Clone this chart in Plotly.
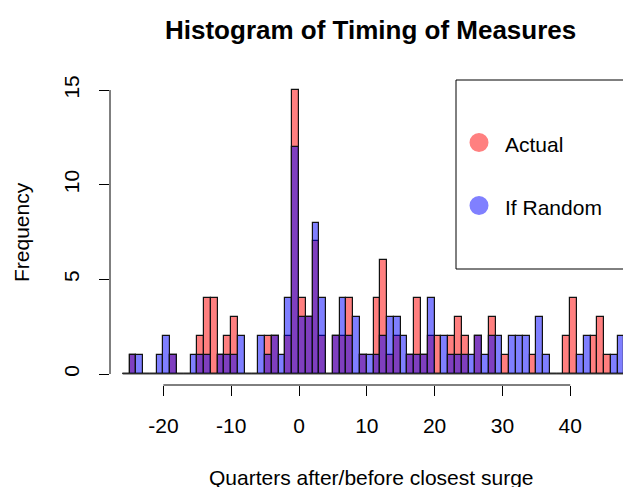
import plotly.graph_objects as go

# Bin left edges (bins of width 1 quarter)
bin_start = list(range(-26, 48))

# Counts per bin: actual timing of measures
actual = [0,
          1, 0, 0, 0, 0, 0, 1, 0, 0, 0,   # -25 .. -16
          2, 4, 4, 1, 2, 3, 0, 0, 0, 0,   # -15 .. -6
          2, 2, 0, 2, 15, 4, 3, 7, 2, 0,  # -5 .. 4
          2, 2, 4, 0, 1, 0, 4, 6, 1, 2,   # 5 .. 14
          0, 1, 4, 1, 2, 2, 0, 2, 3, 2,   # 15 .. 24
          0, 2, 0, 3, 0, 1, 0, 0, 0, 1,   # 25 .. 34
          0, 0, 0, 0, 2, 4, 0, 0, 2, 3,   # 35 .. 44
          1, 0, 0]                        # 45 .. 47

# Counts per bin: if timing were random
if_random = [0,
             1, 1, 0, 0, 1, 2, 1, 0, 0, 1,   # -25 .. -16
             1, 1, 0, 1, 1, 1, 2, 0, 0, 2,   # -15 .. -6
             1, 2, 1, 4, 12, 3, 3, 8, 4, 0,  # -5 .. 4
             2, 4, 2, 3, 1, 1, 1, 2, 3, 3,   # 5 .. 14
             2, 1, 1, 1, 4, 0, 2, 1, 1, 1,   # 15 .. 24
             1, 2, 1, 2, 2, 0, 2, 2, 2, 0,   # 25 .. 34
             3, 1, 0, 0, 0, 0, 1, 2, 0, 0,   # 35 .. 44
             0, 1, 2]                        # 45 .. 47

x_ticks = [-20, -10, 0, 10, 20, 30, 40]
x_tick_labels = ["-20", "-10", "0", "10", "20", "30", "40"]
y_ticks = [0, 5, 10, 15]
y_tick_labels = ["0", "5", "10", "15"]

title_text = "Histogram of Timing of Measures"
x_title = "Quarters after/before closest surge"
y_title = "Frequency"
legend_labels = ["Actual", "If Random"]

RED = "rgba(255,0,0,0.5)"
BLUE = "rgba(0,0,255,0.5)"
FONT = "Liberation Sans, Arial, sans-serif"

centers = [b + 0.5 for b in bin_start]

fig = go.Figure()
fig.add_trace(go.Bar(x=centers, y=actual, width=1, name=legend_labels[0],
                     marker=dict(color=RED, line=dict(color="#111", width=1.2))))
fig.add_trace(go.Bar(x=centers, y=if_random, width=1, name=legend_labels[1],
                     marker=dict(color=BLUE, line=dict(color="#111", width=1.2))))

W, H = 623, 487
L, R, T, B = 110, 0, 79, 102
pw, ph = W - L - R, H - T - B

def px(xpix):
    return (xpix - L) / pw

def py(ypix):
    return (H - B - ypix) / ph

shapes = []
# baseline of zero-height bins
shapes.append(dict(type="line", xref="x", yref="y", x0=min(bin_start), x1=max(bin_start) + 1,
                   y0=0, y1=0, line=dict(color="#444", width=1)))
# R-style axis lines
shapes.append(dict(type="line", xref="x", yref="paper", x0=min(x_ticks), x1=max(x_ticks),
                   y0=0, y1=0, line=dict(color="black", width=1)))
shapes.append(dict(type="line", xref="paper", yref="y", x0=0, x1=0,
                   y0=min(y_ticks), y1=max(y_ticks), line=dict(color="black", width=1)))
# legend box
shapes.append(dict(type="rect", xref="paper", yref="paper", x0=px(456), x1=px(700),
                   y0=py(269), y1=py(80), line=dict(color="black", width=1), fillcolor="rgba(0,0,0,0)"))
# legend symbols
for col, cy in [("#FF8080", 142.5), ("#8080FF", 205.5)]:
    shapes.append(dict(type="circle", xref="paper", yref="paper", xsizemode="pixel", ysizemode="pixel",
                       xanchor=px(479), yanchor=py(cy), x0=-9.5, x1=9.5, y0=-9.5, y1=9.5,
                       fillcolor=col, line=dict(width=0)))

annotations = [
    dict(text="<b>" + title_text + "</b>", xref="paper", yref="paper", x=px(370), y=py(30),
         xanchor="center", yanchor="middle", showarrow=False, font=dict(family=FONT, size=26, color="black")),
    dict(text=x_title, xref="paper", yref="paper", x=px(371), y=py(477),
         xanchor="center", yanchor="middle", showarrow=False, font=dict(family=FONT, size=21, color="black")),
    dict(text=y_title, xref="paper", yref="paper", x=px(21), y=py(232), textangle=-90,
         xanchor="center", yanchor="middle", showarrow=False, font=dict(family=FONT, size=21, color="black")),
    dict(text=legend_labels[0], xref="paper", yref="paper", x=px(503), y=py(144),
         xanchor="left", yanchor="middle", showarrow=False, font=dict(family=FONT, size=21, color="black")),
    dict(text=legend_labels[1], xref="paper", yref="paper", x=px(503), y=py(207),
         xanchor="left", yanchor="middle", showarrow=False, font=dict(family=FONT, size=21, color="black")),
]

fig.update_layout(
    width=W, height=H,
    margin=dict(l=L, r=R, t=T, b=B, pad=0),
    paper_bgcolor="white", plot_bgcolor="white",
    barmode="overlay", bargap=0, showlegend=False,
    shapes=shapes, annotations=annotations,
    font=dict(family=FONT, size=21, color="black"),
)
fig.update_xaxes(range=[(110 - 299) / 6.78, (623 - 299) / 6.78], showgrid=False, zeroline=False,
                 showline=False, tickmode="array", tickvals=x_ticks, ticktext=x_tick_labels,
                 ticks="outside", ticklen=10,
                 tickcolor="black", tickwidth=1, tickfont=dict(family=FONT, size=21, color="black"),
                 ticklabelstandoff=12)
fig.update_yaxes(range=[-(385 - 374) / 18.93, (374 - 79) / 18.93], showgrid=False, zeroline=False,
                 showline=False, tickmode="array", tickvals=y_ticks, ticktext=y_tick_labels,
                 ticks="outside", ticklen=10,
                 tickcolor="black", tickwidth=1, tickangle=-90, tickfont=dict(family=FONT, size=21, color="black"),
                 ticklabelstandoff=12)

fig.write_html("out.html", config={"displayModeBar": False},
               post_script="document.body.style.margin='0';document.body.style.overflow='hidden';")
